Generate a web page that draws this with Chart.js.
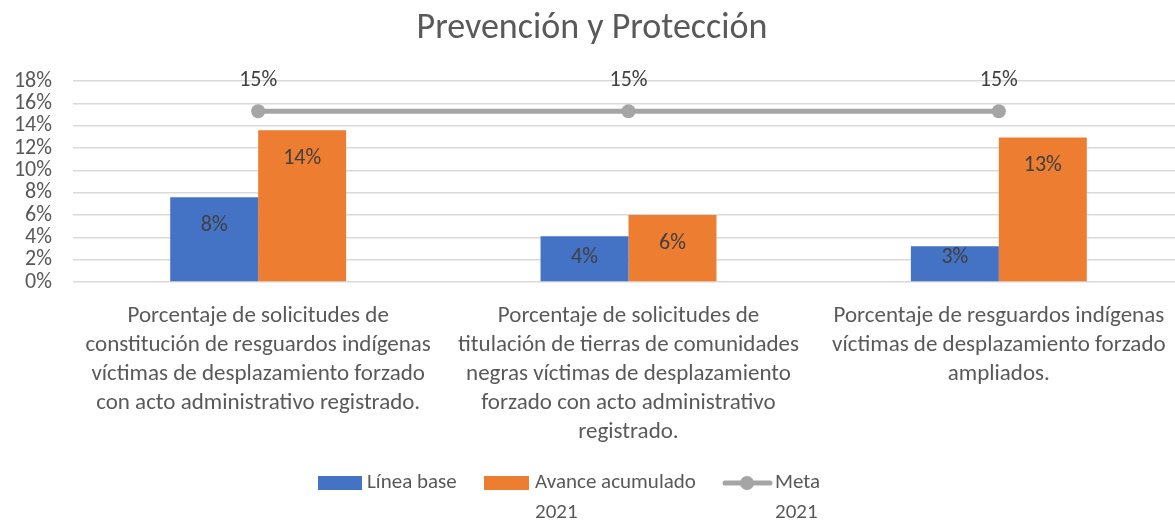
<!DOCTYPE html>
<html>
<head>
<meta charset="utf-8">
<script src="https://cdn.jsdelivr.net/npm/chart.js"></script>
<style>
  html, body { margin: 0; padding: 0; overflow: hidden; background: #fff; }
  #wrap { width: 1205px; height: 523px; }
</style>
</head>
<body>
<div id="wrap"><canvas id="myChart" width="1205" height="523"></canvas></div>
<script>
const categories = [
    ['Porcentaje de solicitudes de', 'constitución de resguardos indígenas', 'víctimas de desplazamiento forzado', 'con acto administrativo registrado.'],
    ['Porcentaje de solicitudes de', 'titulación de tierras de comunidades', 'negras víctimas de desplazamiento', 'forzado con acto administrativo', 'registrado.'],
    ['Porcentaje de resguardos indígenas', 'víctimas de desplazamiento forzado', 'ampliados.']
];
const lineaBase = [0.076, 0.041, 0.032];
const avance2021 = [0.136, 0.06, 0.1295];
const meta2021 = [0.153, 0.153, 0.153];
const yTicks = [0, 0.02, 0.04, 0.06, 0.08, 0.10, 0.12, 0.14, 0.16, 0.18];

const FONT = 'Carlito, Calibri, Lato, sans-serif';
const TEXT = '#595959';
const pct = v => Math.round(v * 100) + '%';

// value labels and the two-line legend
const labelsPlugin = {
    id: 'labelsPlugin',
    afterDatasetsDraw(chart) {
        const ctx = chart.ctx;
        ctx.save();
        ctx.font = '22px ' + FONT;
        ctx.fillStyle = '#404040';
        ctx.textAlign = 'center';
        ctx.textBaseline = 'middle';
        chart.data.datasets.forEach((ds, i) => {
            const meta = chart.getDatasetMeta(i);
            meta.data.forEach((el, j) => {
                const v = ds.data[j];
                if (ds.type === 'line') {
                    ctx.fillText(pct(v), el.x, el.y - 31);
                } else {
                    // inside end, but kept clear of the axis on short bars
                    ctx.fillText(pct(v), el.x, Math.min(el.y + 28, el.base - 24));
                }
            });
        });
        ctx.restore();
    },
    afterDraw(chart) {
        const ctx = chart.ctx;
        const ds = chart.data.datasets;
        ctx.save();
        ctx.font = '21px ' + FONT;
        ctx.fillStyle = TEXT;
        ctx.textBaseline = 'middle';
        const y = 483;
        // Línea base
        ctx.fillStyle = ds[0].backgroundColor;
        ctx.fillRect(318, y - 7, 44, 14);
        ctx.fillStyle = TEXT;
        ctx.fillText('Línea base', 367, y);
        // Avance acumulado 2021
        ctx.fillStyle = ds[1].backgroundColor;
        ctx.fillRect(484, y - 7, 45, 14);
        ctx.fillStyle = TEXT;
        ctx.fillText('Avance acumulado', 535, y);
        ctx.fillText('2021', 535, y + 30);
        // Meta 2021
        ctx.strokeStyle = ds[2].borderColor;
        ctx.lineWidth = 5;
        ctx.lineCap = 'round';
        ctx.beginPath();
        ctx.moveTo(725, y);
        ctx.lineTo(770, y);
        ctx.stroke();
        ctx.fillStyle = ds[2].borderColor;
        ctx.beginPath();
        ctx.arc(747, y, 7, 0, Math.PI * 2);
        ctx.fill();
        ctx.fillStyle = TEXT;
        ctx.fillText('Meta', 775, y);
        ctx.fillText('2021', 775, y + 30);
        ctx.restore();
    }
};

const ctx = document.getElementById('myChart').getContext('2d');
new Chart(ctx, {
    type: 'bar',
    data: {
        labels: categories,
        datasets: [
            {
                label: 'Línea base',
                data: lineaBase,
                backgroundColor: '#4472C4',
                categoryPercentage: 0.475,
                barPercentage: 1,
                order: 2
            },
            {
                label: 'Avance acumulado 2021',
                data: avance2021,
                backgroundColor: '#ED7D31',
                categoryPercentage: 0.475,
                barPercentage: 1,
                order: 2
            },
            {
                type: 'line',
                label: 'Meta 2021',
                data: meta2021,
                borderColor: '#A5A5A5',
                backgroundColor: '#A5A5A5',
                borderWidth: 5,
                pointRadius: 7,
                pointBackgroundColor: '#A5A5A5',
                pointBorderWidth: 0,
                order: 1
            }
        ]
    },
    options: {
        responsive: false,
        animation: false,
        layout: { padding: { left: 0, right: 21, top: 0, bottom: 0 } },
        scales: {
            y: {
                min: 0,
                max: 0.18,
                afterBuildTicks: scale => { scale.ticks = yTicks.map(v => ({ value: v })); },
                afterFit: scale => { scale.width = 73; },
                border: { display: false },
                grid: { color: '#D9D9D9', lineWidth: 1.5, drawTicks: false },
                ticks: {
                    autoSkip: false,
                    padding: 21,
                    color: TEXT,
                    font: { family: FONT, size: 22 },
                    callback: v => pct(v)
                }
            },
            x: {
                afterFit: scale => { scale.height = 241; },
                border: { display: false },
                grid: { display: false, drawTicks: false },
                ticks: {
                    padding: 20,
                    maxRotation: 0,
                    autoSkip: false,
                    color: TEXT,
                    font: { family: FONT, size: 23, lineHeight: 1.26 }
                }
            }
        },
        plugins: {
            legend: { display: false },
            tooltip: { enabled: false },
            title: {
                display: true,
                text: 'Prevención y Protección',
                color: TEXT,
                font: { family: FONT, size: 36, weight: 'normal' },
                padding: { top: 7, bottom: 31 }
            }
        }
    },
    plugins: [labelsPlugin]
});
</script>
</body>
</html>
